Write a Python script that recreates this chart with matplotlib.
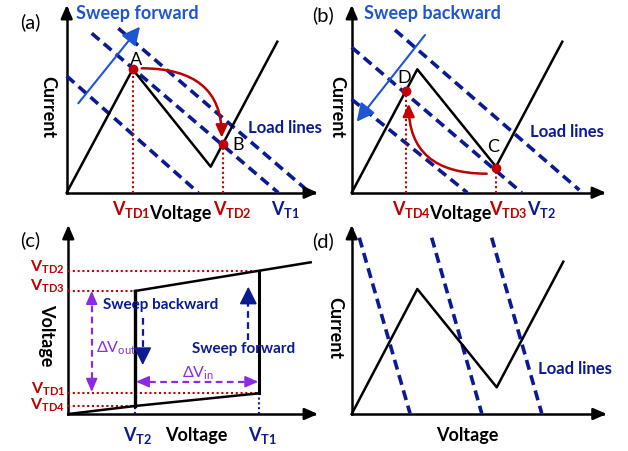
import matplotlib
matplotlib.use('Agg')
import matplotlib.pyplot as plt
from matplotlib.patches import FancyArrowPatch

plt.rcParams['font.family'] = ['Lato', 'DejaVu Sans']
plt.rcParams['mathtext.fontset'] = 'custom'
plt.rcParams['mathtext.rm'] = 'Lato'
plt.rcParams['mathtext.bf'] = 'Lato:bold'

# ---------------- data (schematic units) ----------------
# panel (a): forward sweep
a_curve_v = [0, 66, 144, 210.6]
a_curve_i = [0, 123.4, 26, 151]
a_load_v = [[0, 131.6], [25, 211.6], [51.6, 243.3]]
a_load_i = [[116.7, 0], [159.4, 0], [164.4, 0]]
a_pts_v = [66, 156.6]
a_pts_i = [123.4, 48.7]
a_pts_lab = ['A', 'B']
a_sweep_v = [11.6, 73.3]
a_sweep_i = [89.4, 166]

# panel (b): backward sweep
b_curve_v = [0, 65.6, 144.3, 210.6]
b_curve_i = [0, 123.4, 26, 151]
b_load_v = [[0, 170], [0, 115.6], [43.3, 227.6]]
b_load_i = [[145.4, 0], [93.4, 0], [162.7, 2.7]]
b_pts_v = [54, 144.3]
b_pts_i = [102, 25]
b_pts_lab = ['D', 'C']
b_sweep_v = [73.3, 5]
b_sweep_i = [157.7, 71]

# panel (c): hysteresis transfer
c_vt2, c_vt1 = 66.7, 191
c_vtd4, c_vtd1, c_vtd3, c_vtd2 = 8, 20.7, 123, 143.3
c_low_v = [0, c_vt2, c_vt1]
c_low_o = [0, c_vtd4, c_vtd1]
c_up_v = [c_vt2, c_vt1, 242.4]
c_up_o = [c_vtd3, c_vtd2, 151.7]

# panel (d): multiple load lines
d_curve_v = [0, 65.6, 145, 211.6]
d_curve_i = [0, 125, 26.7, 152.3]
d_load_v = [[7.6, 58.3], [80, 130], [140, 190]]
d_load_i = [[176.3, 0.7], [176.3, 0.7], [176.3, 0.7]]

RED = '#C00000'
NAVY = '#0B1A92'
BLUE = '#1F55D2'
PURPLE = '#8A2BE2'
W, H = 628, 451

fig = plt.figure(figsize=(6.28, 4.51), dpi=100)


def panel(ox, oy):
    ax = fig.add_axes([0, 0, 1, 1])
    ax.set_xlim(-ox, W - ox)
    ax.set_ylim(oy - H, oy)
    ax.axis('off')
    ax.patch.set_alpha(0)
    return ax


def arrow(ax, p0, p1, color='k', lw=1.8, hl=0.6, hw=0.3, ms=12, ls='-', conn='arc3,rad=0'):
    a = FancyArrowPatch(p0, p1, arrowstyle=f'-|>,head_length={hl},head_width={hw}',
                        connectionstyle=conn, color=color, lw=lw,
                        mutation_scale=ms, shrinkA=0, shrinkB=0, linestyle=ls,
                        clip_on=False, zorder=5)
    ax.add_patch(a)


def axes_frame(ax, xmax, ymax):
    ax.plot([0, xmax - 4], [0, 0], color='k', lw=1.8, solid_capstyle='projecting')
    ax.plot([0, 0], [0, ymax - 4], color='k', lw=1.8, solid_capstyle='projecting')
    arrow(ax, (xmax - 8, 0), (xmax, 0), hl=0.8, hw=0.35, ms=10)
    arrow(ax, (0, ymax - 8), (0, ymax), hl=0.8, hw=0.35, ms=10)


def loads(ax, vs, is_):
    for v, i in zip(vs, is_):
        ax.plot(v, i, color=NAVY, lw=2.6, linestyle=(0, (2.8, 1.6)), dash_capstyle='butt')


BOLD = dict(fontweight='bold')

# ---------------- panel (a) ----------------
ax = panel(66.7, 192.7)
axes_frame(ax, 251.3, 187.7)
loads(ax, a_load_v, a_load_i)
ax.plot(a_curve_v, a_curve_i, color='k', lw=1.8, zorder=3)
for v, i in zip(a_pts_v, a_pts_i):
    ax.plot([v, v], [0, i], color=RED, lw=1.5, linestyle=(0, (1, 1.3)))
ax.plot(a_pts_v, a_pts_i, 'o', color=RED, ms=6, zorder=6)
arrow(ax, (a_sweep_v[0], a_sweep_i[0]), (a_sweep_v[1], a_sweep_i[1]), color=BLUE, lw=1.5, hl=0.9, hw=0.45)
arrow(ax, (75, 124.4), (155, 55), color=RED, lw=1.8, conn='angle3,angleA=0,angleB=90',
      hl=0.75, hw=0.35, ms=10)
ax.text(-36.7, 170.7, '(a)', fontsize=14.5, ha='center', va='center')
ax.text(70.8, 178.7, 'Sweep forward', fontsize=13, color=BLUE, ha='center', va='center', **BOLD)
ax.text(69.3, 132.7, a_pts_lab[0], fontsize=13, ha='center', va='center')
ax.text(171.3, 47.7, a_pts_lab[1], fontsize=13, ha='center', va='center')
ax.text(218.3, 64.7, 'Load lines', fontsize=12, color=NAVY, ha='center', va='center', **BOLD)
ax.text(-18.7, 85.7, 'Current', fontsize=13, rotation=270, ha='center', va='center', **BOLD)
ax.text(64.3, -17.3, r'V$_{\mathbf{TD1}}$', fontsize=13, color=RED, ha='center', va='center', **BOLD)
ax.text(113.8, -20.3, 'Voltage', fontsize=13, ha='center', va='center', **BOLD)
ax.text(165.3, -17.3, r'V$_{\mathbf{TD2}}$', fontsize=13, color=RED, ha='center', va='center', **BOLD)
ax.text(218.3, -17.3, r'V$_{\mathbf{T1}}$', fontsize=13, color=NAVY, ha='center', va='center', **BOLD)

# ---------------- panel (b) ----------------
ax = panel(351.7, 192.7)
axes_frame(ax, 254.3, 187.7)
loads(ax, b_load_v, b_load_i)
ax.plot(b_curve_v, b_curve_i, color='k', lw=1.8, zorder=3)
for v, i in zip(b_pts_v, b_pts_i):
    ax.plot([v, v], [0, i], color=RED, lw=1.5, linestyle=(0, (1, 1.3)))
ax.plot(b_pts_v, b_pts_i, 'o', color=RED, ms=6, zorder=6)
arrow(ax, (b_sweep_v[0], b_sweep_i[0]), (b_sweep_v[1], b_sweep_i[1]), color=BLUE, lw=1.5, hl=0.9, hw=0.45)
arrow(ax, (135, 19), (57, 89), color=RED, lw=1.8, conn='angle3,angleA=0,angleB=90',
      hl=0.75, hw=0.35, ms=10)
ax.text(-28.4, 177.7, '(b)', fontsize=14.5, ha='center', va='center')
ax.text(80.8, 178.7, 'Sweep backward', fontsize=13, color=BLUE, ha='center', va='center', **BOLD)
ax.text(52.6, 114.4, b_pts_lab[0], fontsize=13, ha='center', va='center')
ax.text(141, 46, b_pts_lab[1], fontsize=13, ha='center', va='center')
ax.text(215, 60.7, 'Load lines', fontsize=12, color=NAVY, ha='center', va='center', **BOLD)
ax.text(-15, 85.7, 'Current', fontsize=13, rotation=270, ha='center', va='center', **BOLD)
ax.text(60, -17.3, r'V$_{\mathbf{TD4}}$', fontsize=13, color=RED, ha='center', va='center', **BOLD)
ax.text(108.3, -20.3, 'Voltage', fontsize=13, ha='center', va='center', **BOLD)
ax.text(156.8, -17.3, r'V$_{\mathbf{TD3}}$', fontsize=13, color=RED, ha='center', va='center', **BOLD)
ax.text(189.5, -17.3, r'V$_{\mathbf{T2}}$', fontsize=13, color=NAVY, ha='center', va='center', **BOLD)

# ---------------- panel (c) ----------------
ax = panel(68.3, 414)
axes_frame(ax, 249.7, 189)
for lvl, xe in [(c_vtd2, c_vt1), (c_vtd3, c_vt2), (c_vtd1, c_vt1), (c_vtd4, c_vt2)]:
    ax.plot([0, xe], [lvl, lvl], color=RED, lw=1.5, linestyle=(0, (1, 1.3)))
ax.plot([c_vt2, c_vt2], [0, c_vtd4], color=NAVY, lw=1.5, linestyle=(0, (1, 1.3)))
ax.plot([c_vt1, c_vt1], [0, c_vtd1], color=NAVY, lw=1.5, linestyle=(0, (1, 1.3)))
ax.plot(c_low_v, c_low_o, color='k', lw=1.8, zorder=3)
ax.plot(c_up_v, c_up_o, color='k', lw=1.8, zorder=3)
ax.plot([c_vt2, c_vt2], [c_vtd4, c_vtd3], color='k', lw=2.4, zorder=3)
ax.plot([c_vt1, c_vt1], [c_vtd1, c_vtd2], color='k', lw=2.2, zorder=3)
# delta V_out
ax.plot([23.4, 23.4], [c_vtd1 + 3, c_vtd3 - 3], color=PURPLE, lw=1.6, linestyle=(0, (3, 2)))
arrow(ax, (23.4, c_vtd3 - 8), (23.4, c_vtd3), color=PURPLE, lw=1.2, hl=0.8, hw=0.35, ms=10)
arrow(ax, (23.4, c_vtd1 + 8), (23.4, c_vtd1 + 1.5), color=PURPLE, lw=1.2, hl=0.8, hw=0.35, ms=10)
# delta V_in
ax.plot([c_vt2 + 3, c_vt1 - 3], [32.3, 32.3], color=PURPLE, lw=1.6, linestyle=(0, (3, 2)))
arrow(ax, (c_vt2 + 9, 32.3), (c_vt2 + 1, 32.3), color=PURPLE, lw=1.2, hl=0.8, hw=0.35, ms=10)
arrow(ax, (c_vt1 - 9, 32.3), (c_vt1 - 1, 32.3), color=PURPLE, lw=1.2, hl=0.8, hw=0.35, ms=10)
# sweep arrows
ax.plot([74.4, 74.4], [95.7, 56], color=NAVY, lw=1.6, linestyle=(0, (3, 2)))
arrow(ax, (74.4, 60), (74.4, 49), color=NAVY, lw=1.2, hl=0.9, hw=0.45, ms=12)
ax.plot([180, 180], [74, 120], color=NAVY, lw=1.6, linestyle=(0, (3, 2)))
arrow(ax, (180, 116), (180, 127.3), color=NAVY, lw=1.2, hl=0.9, hw=0.45, ms=12)
ax.text(-38.3, 174, '(c)', fontsize=14.5, ha='center', va='center')
for y, lab in [(147.3, 'TD2'), (128, 'TD3'), (24.7, 'TD1'), (8.5, 'TD4')]:
    ax.text(-3.3, y, r'V$_{\mathbf{' + lab + '}}$', fontsize=11.5, color=RED, ha='right', va='center', **BOLD)
ax.text(-21.6, 79, 'Voltage', fontsize=13, rotation=270, ha='center', va='center', **BOLD)
ax.text(92.5, 109, 'Sweep backward', fontsize=11, color=NAVY, ha='center', va='center', **BOLD)
ax.text(175.7, 64.7, 'Sweep forward', fontsize=11, color=NAVY, ha='center', va='center', **BOLD)
ax.text(47.5, 65.7, r'ΔV$_{\mathrm{out}}$', fontsize=11.5, color=PURPLE, ha='center', va='center')
ax.text(129.7, 40.7, r'ΔV$_{\mathrm{in}}$', fontsize=11.5, color=PURPLE, ha='center', va='center')
ax.text(69.2, -21, r'V$_{\mathbf{T2}}$', fontsize=13, color=NAVY, ha='center', va='center', **BOLD)
ax.text(128.4, -21, 'Voltage', fontsize=13, ha='center', va='center', **BOLD)
ax.text(194.2, -21, r'V$_{\mathbf{T1}}$', fontsize=13, color=NAVY, ha='center', va='center', **BOLD)

# ---------------- panel (d) ----------------
ax = panel(351.7, 414)
axes_frame(ax, 255, 189)
loads(ax, d_load_v, d_load_i)
ax.plot(d_curve_v, d_curve_i, color='k', lw=1.8, zorder=3)
ax.text(-28.4, 172.3, '(d)', fontsize=14.5, ha='center', va='center')
ax.text(-16.7, 85.7, 'Current', fontsize=13, rotation=270, ha='center', va='center', **BOLD)
ax.text(223.5, 45, 'Load lines', fontsize=12, color=NAVY, ha='center', va='center', **BOLD)
ax.text(116, -21, 'Voltage', fontsize=13, ha='center', va='center', **BOLD)

fig.savefig('out.png', dpi=100)
